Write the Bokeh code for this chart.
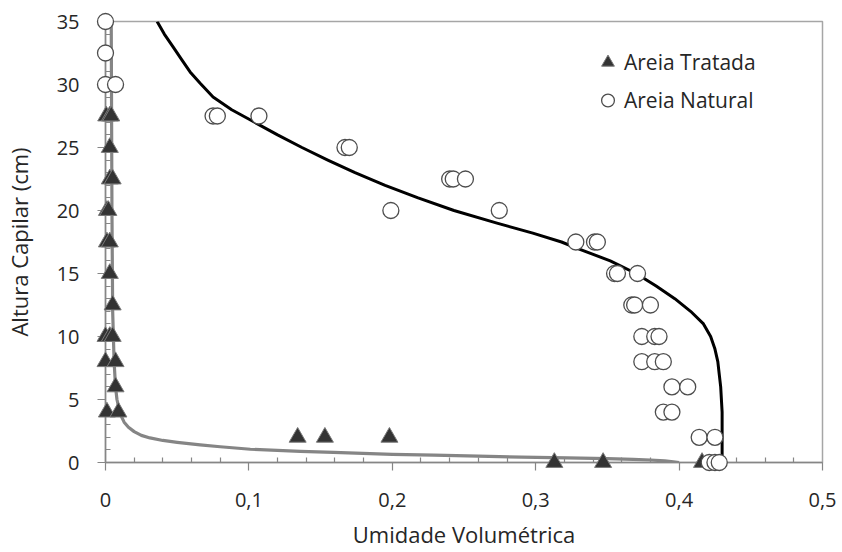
from bokeh.plotting import figure
from bokeh.models import Range1d, FixedTicker, Legend, LegendItem
from bokeh.embed import file_html
from bokeh.resources import INLINE

# ---------------- data ----------------
trat_theta = [0.0005, 0.003, 0.004, 0.003, 0.003, 0.005, 0.001, 0.002, 0.001, 0.003,
              0.003, 0.005, 0.0, 0.003, 0.005, 0.0, 0.007, 0.007, 0.001, 0.009,
              0.134, 0.153, 0.198, 0.313, 0.347, 0.416]
trat_h = [27.5, 27.5, 27.5, 25, 22.5, 22.5, 20, 20, 17.5, 17.5,
          15, 12.5, 10, 10, 10, 8, 8, 6, 4, 4,
          2, 2, 2, 0, 0, 0]

nat_theta = [0.0, 0.0, 0.0, 0.007, 0.075, 0.078, 0.107, 0.167, 0.170,
             0.240, 0.2425, 0.251, 0.199, 0.2746, 0.328, 0.341, 0.343,
             0.355, 0.357, 0.371, 0.367, 0.369, 0.380, 0.374, 0.383, 0.386,
             0.374, 0.383, 0.389, 0.395, 0.406, 0.389, 0.395, 0.414, 0.425,
             0.421, 0.425, 0.428]
nat_h = [35, 32.5, 30, 30, 27.5, 27.5, 27.5, 25, 25,
         22.5, 22.5, 22.5, 20, 20, 17.5, 17.5, 17.5,
         15, 15, 15, 12.5, 12.5, 12.5, 10, 10, 10,
         8, 8, 8, 6, 6, 4, 4, 2, 2,
         0, 0, 0]

# fitted curves, points
nat_fit_theta = [0.036, 0.041, 0.047, 0.053, 0.059, 0.066, 0.075, 0.088, 0.104, 0.120,
                 0.137, 0.155, 0.174, 0.195, 0.218, 0.243, 0.273, 0.298, 0.318, 0.329,
                 0.352, 0.370, 0.384, 0.397, 0.408, 0.417, 0.422, 0.425, 0.427, 0.428,
                 0.429, 0.430, 0.430]
nat_fit_h = [35, 34, 33, 32, 31, 30.1, 29, 28, 27, 26,
             25, 24, 23, 22, 21, 20, 19, 18.2, 17.5, 17,
             16, 15, 14, 13, 12, 11, 10, 9, 8, 7,
             6, 4, 0]

trat_fit_theta = [0.004, 0.0045, 0.005, 0.006, 0.007, 0.008, 0.009, 0.0105, 0.013, 0.016,
                  0.020, 0.025, 0.031, 0.040, 0.050, 0.066, 0.080, 0.101, 0.136, 0.159,
                  0.200, 0.229, 0.260, 0.290, 0.322, 0.350, 0.368, 0.380, 0.390, 0.396,
                  0.400]
trat_fit_h = [35, 20, 12, 8, 6, 5, 4.5, 3.8, 3.2, 2.8,
              2.45, 2.15, 1.95, 1.75, 1.6, 1.4, 1.25, 1.05, 0.88, 0.8,
              0.65, 0.58, 0.5, 0.43, 0.36, 0.3, 0.25, 0.2, 0.13, 0.06,
              0.0]

x_ticks = [0, 0.1, 0.2, 0.3, 0.4, 0.5]
x_tick_labels = ["0", "0,1", "0,2", "0,3", "0,4", "0,5"]
x_minor = [0.02, 0.04, 0.06, 0.08, 0.12, 0.14, 0.16, 0.18, 0.22, 0.24, 0.26, 0.28,
           0.32, 0.34, 0.36, 0.38, 0.42, 0.44, 0.46, 0.48]
y_ticks = [0, 5, 10, 15, 20, 25, 30, 35]
y_minor = [v for v in range(0, 36) if v % 5 != 0]

series_names = ["Areia Tratada", "Areia Natural"]
x_title = "Umidade Volumétrica"
y_title = "Altura Capilar (cm)"

FONT = "Open Sans"

p = figure(width=842, height=552, output_backend="svg", toolbar_location=None,
           x_range=Range1d(0, 0.5), y_range=Range1d(0, 35),
           min_border_left=105, min_border_right=20, min_border_top=21, min_border_bottom=90)
p.background_fill_color = "white"
p.border_fill_color = "white"
p.outline_line_color = "#a6a6a6"
p.outline_line_width = 1.5
p.grid.visible = False

# fitted curves
p.line(trat_fit_theta, trat_fit_h, line_color="#858585", line_width=3.2, line_join="round")
p.line(nat_fit_theta, nat_fit_h, line_color="#000000", line_width=3, line_join="round")

# points (drawn above the frame so that markers on the edges are not cut)
r_trat = p.scatter(trat_theta, trat_h, marker="triangle", size=17,
                   fill_color="#333333", line_color="#7a7a7a", line_width=1)
r_nat = p.scatter(nat_theta, nat_h, marker="circle", size=16,
                  fill_color="white", line_color="#4d4d4d", line_width=1.3)
for r in (r_trat, r_nat):
    r.level = "overlay"
    if "clip" in r.properties():
        r.clip = False

for ax in (p.xaxis[0], p.yaxis[0]):
    ax.axis_line_color = "#868686"
    ax.axis_line_width = 1.5
    ax.major_tick_line_color = "#868686"
    ax.minor_tick_line_color = "#868686"
    ax.major_tick_line_width = 1.2
    ax.minor_tick_line_width = 1.2
    ax.major_tick_out = 8
    ax.major_tick_in = 0
    ax.minor_tick_in = 5
    ax.minor_tick_out = 0
    ax.major_label_text_font = FONT
    ax.major_label_text_font_size = "20px"
    ax.major_label_text_color = "#262626"
    ax.axis_label_text_font = FONT
    ax.axis_label_text_font_size = "22px"
    ax.axis_label_text_font_style = "normal"
    ax.axis_label_text_color = "#262626"

p.xaxis[0].ticker = FixedTicker(ticks=x_ticks, minor_ticks=x_minor)
p.xaxis[0].major_label_overrides = {t: l for t, l in zip(x_ticks, x_tick_labels)}
p.xaxis[0].major_label_standoff = 22
p.xaxis[0].axis_label = x_title
p.xaxis[0].axis_label_standoff = 9

p.yaxis[0].ticker = FixedTicker(ticks=y_ticks, minor_ticks=y_minor)
p.yaxis[0].major_label_standoff = 18
p.yaxis[0].axis_label = y_title
p.yaxis[0].axis_label_standoff = 20

legend = Legend(items=[LegendItem(label=series_names[0], renderers=[r_trat]),
                       LegendItem(label=series_names[1], renderers=[r_nat])],
                location=(486, 346), orientation="vertical")
legend.border_line_color = None
legend.background_fill_alpha = 0
legend.padding = 0
legend.margin = 0
legend.spacing = 6
legend.glyph_width = 33
legend.glyph_height = 32
legend.label_standoff = 0
legend.label_text_font = FONT
legend.label_text_font_size = "21px"
legend.label_text_color = "#262626"
legend.label_height = 32
p.add_layout(legend, "center")

open("out.html", "w").write(file_html(p, INLINE))
